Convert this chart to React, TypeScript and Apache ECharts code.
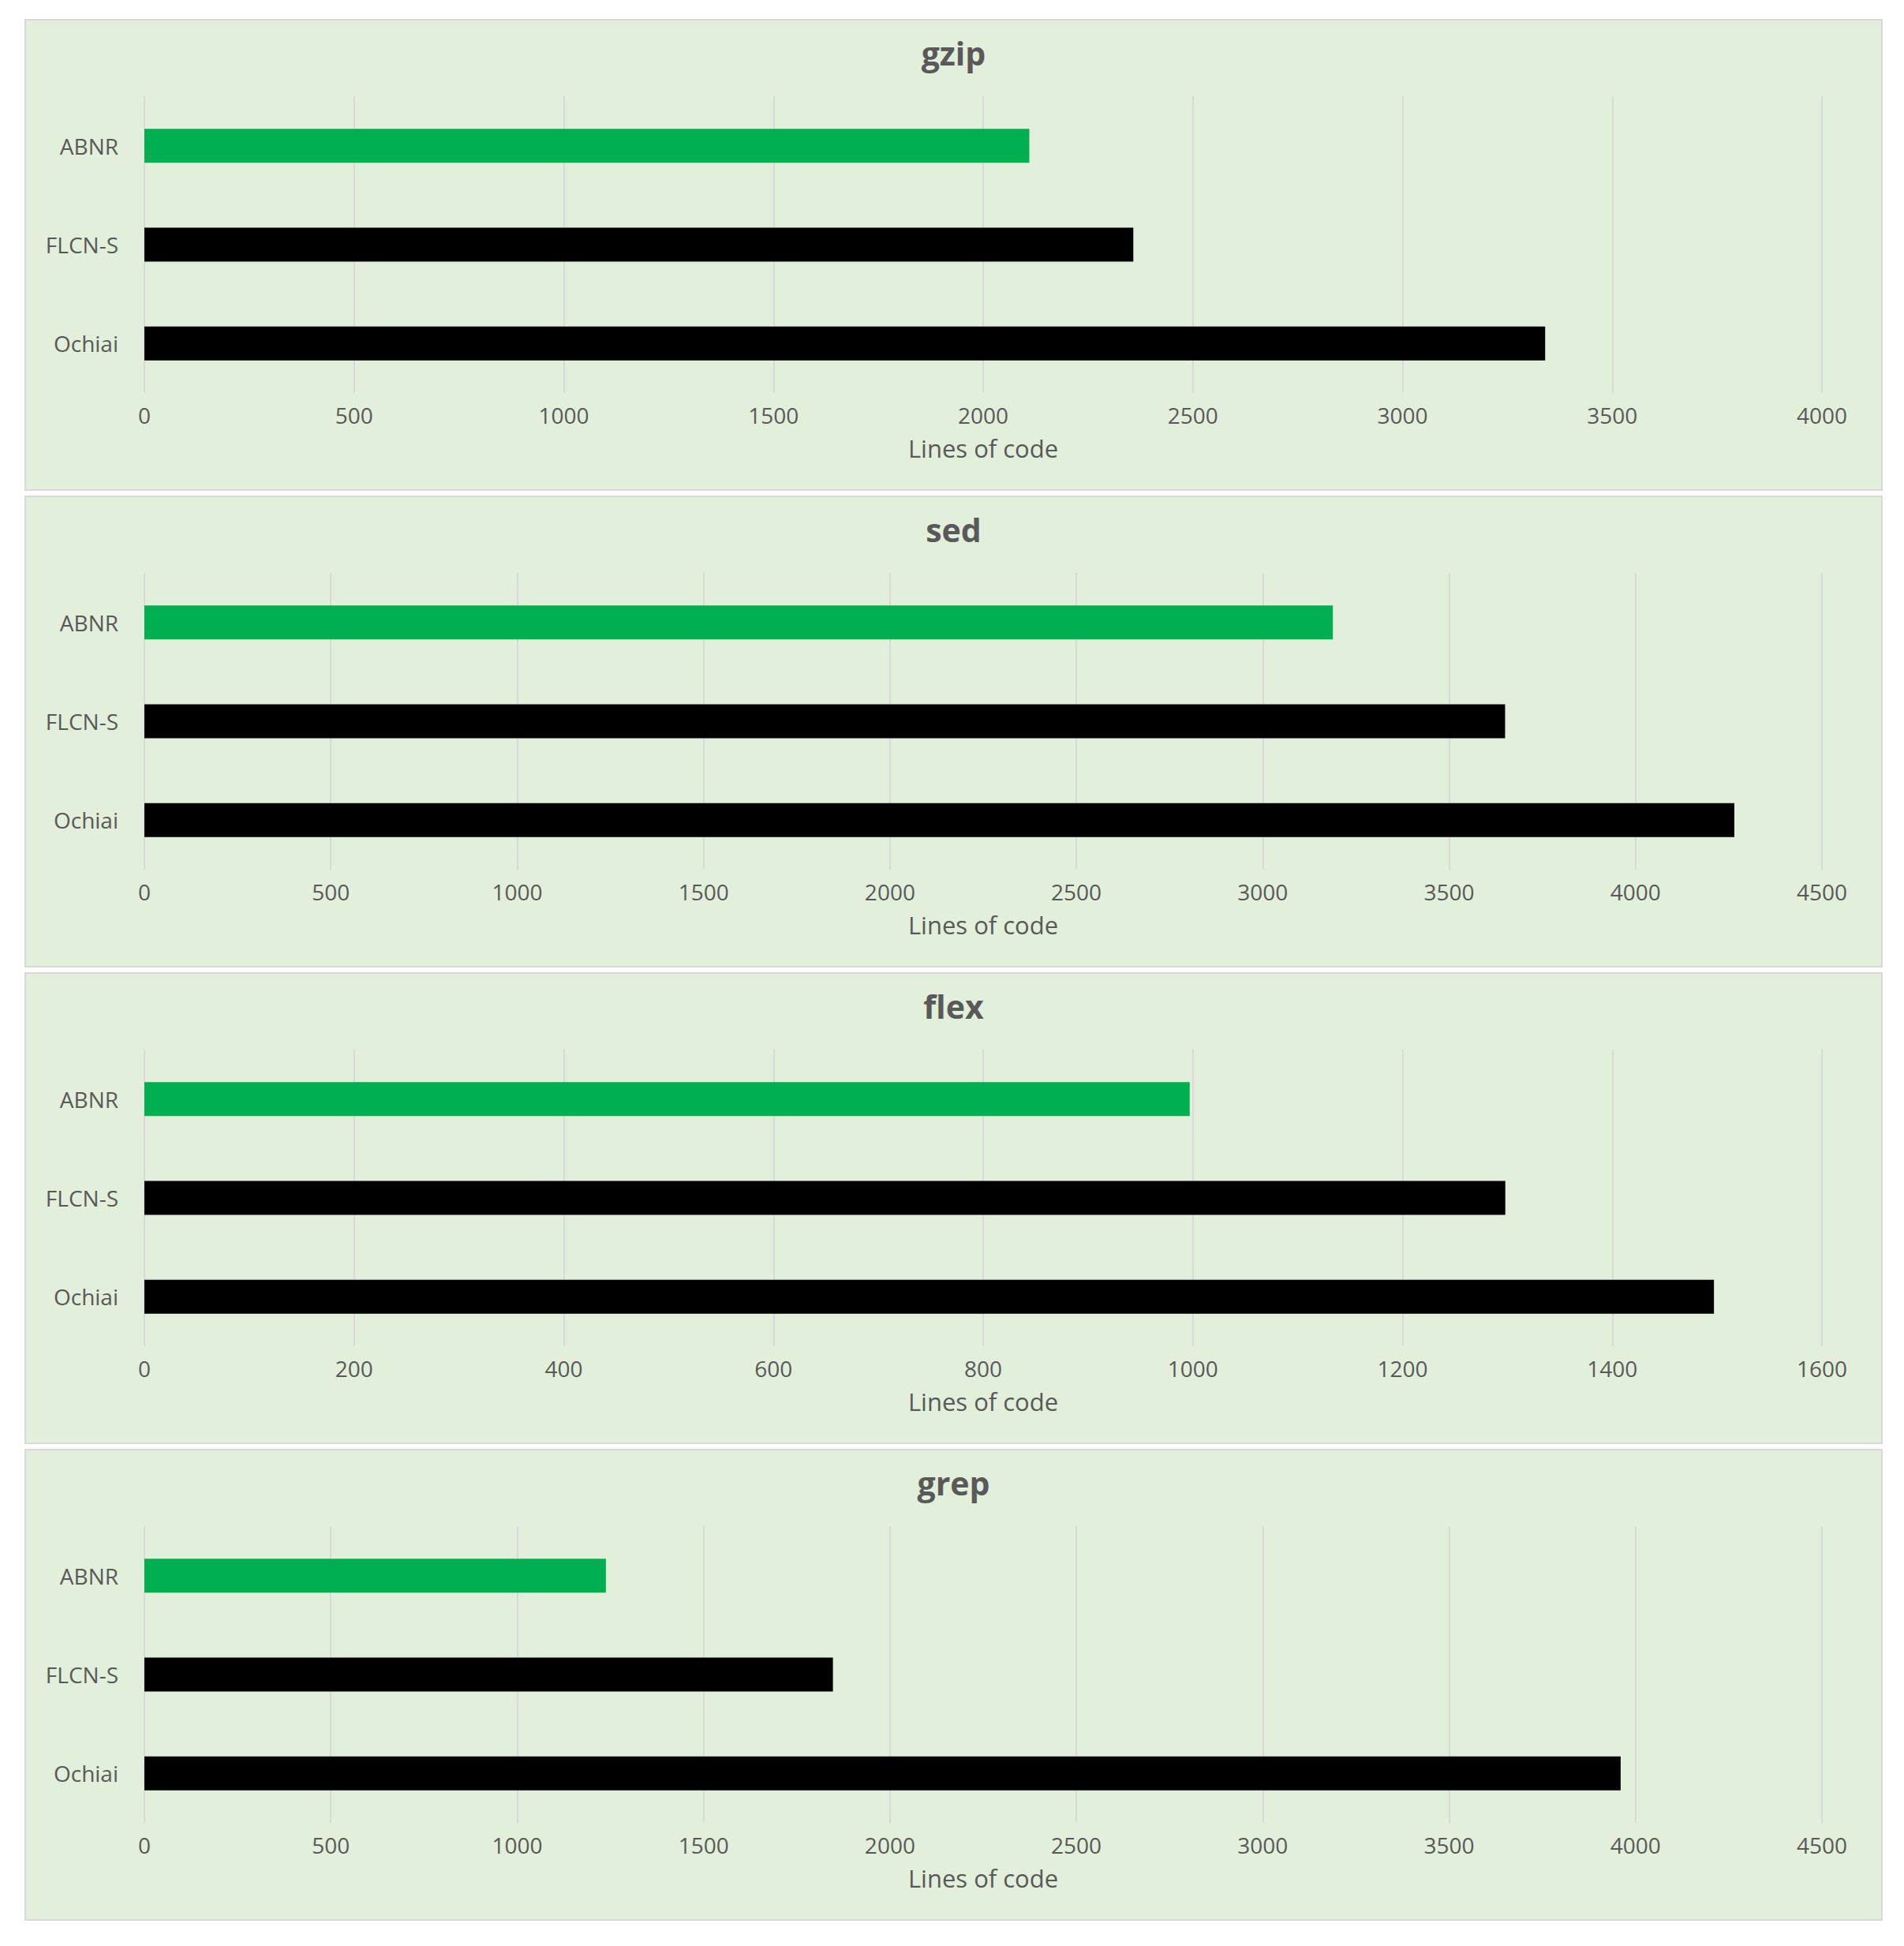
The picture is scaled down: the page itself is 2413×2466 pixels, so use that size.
import React, { useEffect, useRef } from "react";
import * as echarts from "echarts";

const categories = ["ABNR", "FLCN-S", "Ochiai"];
const barColors = ["#00b050", "#000000", "#000000"];

const panelTitles = ["gzip", "sed", "flex", "grep"];
const gzipValues = [2110, 2358, 3340];
const sedValues = [3188, 3650, 4265];
const flexValues = [997, 1298, 1497];
const grepValues = [1238, 1847, 3960];
const axisMax = [4000, 4500, 1600, 4500];
const axisInterval = [500, 500, 200, 500];
const axisName = "Lines of code";

const panelValues = [gzipValues, sedValues, flexValues, grepValues];

const FONT = "'Open Sans', Lato, 'DejaVu Sans', sans-serif";
const TEXT = "#595959";

const PANEL_LEFT = 31;
const PANEL_WIDTH = 2355;
const PANEL_TOPS = [24, 628, 1232, 1836];
const PANEL_HEIGHT = 598;

function Panel({ idx }: { idx: number }) {
  const ref = useRef<HTMLDivElement>(null);
  useEffect(() => {
    if (!ref.current) return;
    const chart = echarts.init(ref.current, undefined, { renderer: "svg" });
    chart.setOption({
      animation: false,
      backgroundColor: "#e2efda",
      title: {
        text: panelTitles[idx],
        left: "center",
        top: 20,
        padding: 0,
        textStyle: { fontFamily: FONT, fontSize: 41, fontWeight: "bold", color: TEXT },
      },
      grid: { left: 150, right: 75, top: 96, bottom: 122, containLabel: false },
      xAxis: {
        type: "value",
        min: 0,
        max: axisMax[idx],
        interval: axisInterval[idx],
        axisLine: { show: false },
        axisTick: { show: false },
        splitLine: { show: true, lineStyle: { color: "#d9d9d9", width: 2 } },
        axisLabel: {
          color: TEXT,
          fontFamily: FONT,
          fontSize: 28,
          margin: 14,
          formatter: (v: number) => String(v),
        },
        name: axisName,
        nameLocation: "middle",
        nameGap: 54,
        nameTextStyle: { color: TEXT, fontFamily: FONT, fontSize: 31 },
      },
      yAxis: {
        type: "category",
        inverse: true,
        data: categories,
        axisLine: { show: false },
        axisTick: { show: false },
        splitLine: { show: false },
        axisLabel: { color: TEXT, fontFamily: FONT, fontSize: 28, margin: 33 },
      },
      series: [
        {
          type: "bar",
          barWidth: 43,
          data: panelValues[idx].map((v, i) => ({
            value: v,
            itemStyle: { color: barColors[i] },
          })),
        },
      ],
    });
    return () => chart.dispose();
  }, [idx]);
  return (
    <div
      ref={ref}
      style={{
        position: "absolute",
        left: PANEL_LEFT,
        top: PANEL_TOPS[idx],
        width: PANEL_WIDTH,
        height: PANEL_HEIGHT,
        boxSizing: "border-box",
        border: "2px solid #d9d9d9",
      }}
    />
  );
}

export default function App() {
  return (
    <div
      style={{
        position: "absolute",
        left: 0,
        top: 0,
        width: 2413,
        height: 2466,
        background: "#ffffff",
      }}
    >
      {panelTitles.map((_, i) => (
        <Panel key={i} idx={i} />
      ))}
    </div>
  );
}
